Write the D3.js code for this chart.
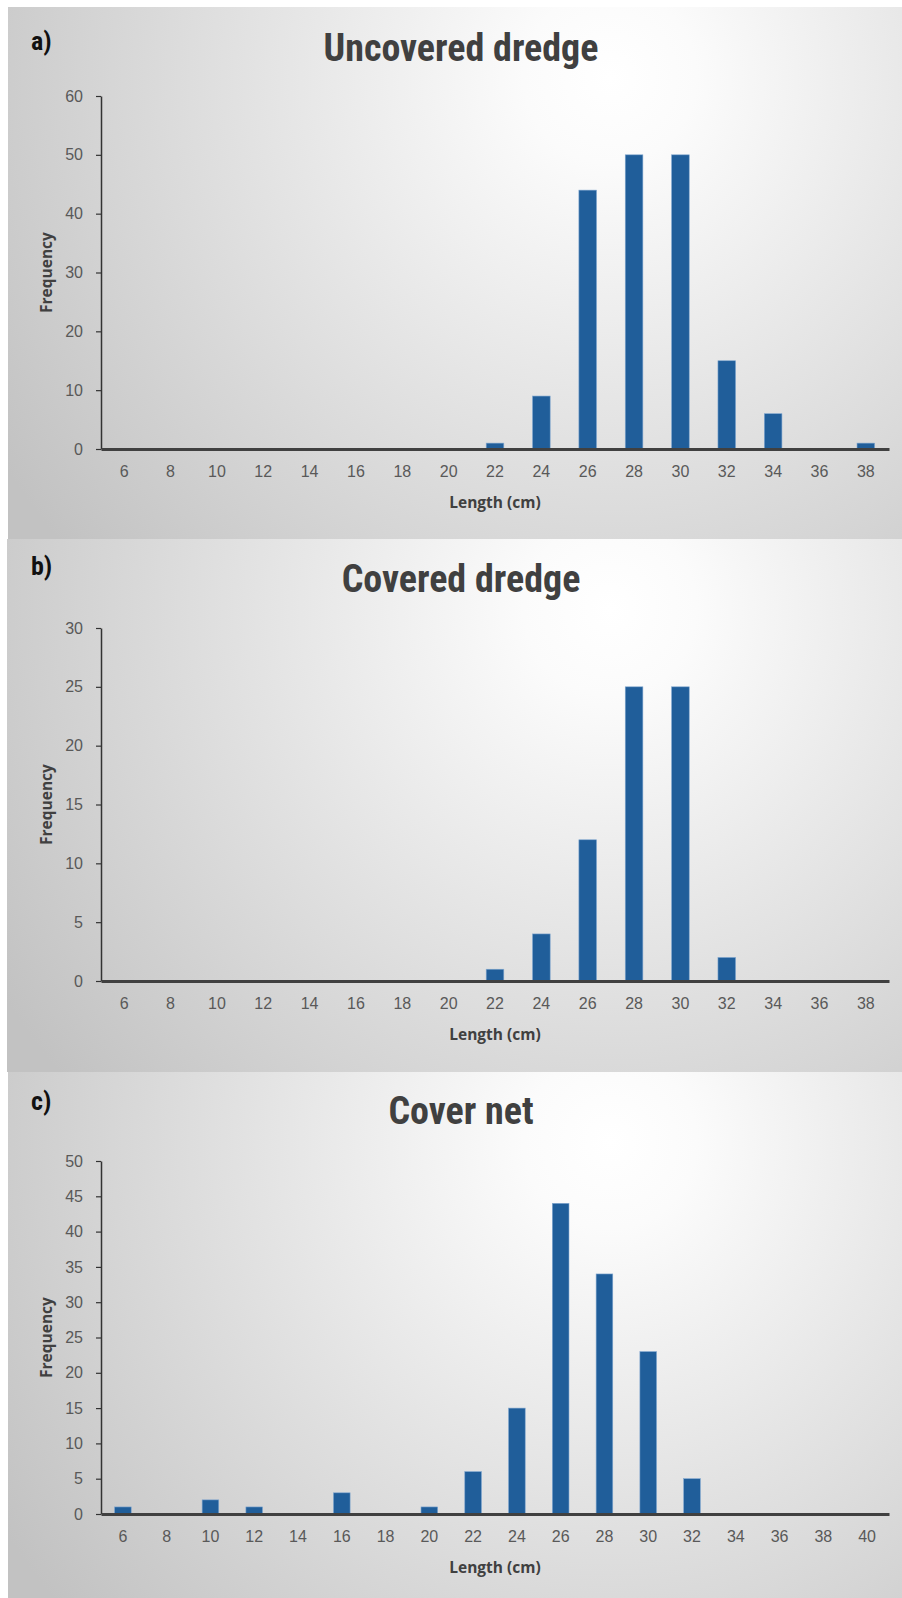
<!DOCTYPE html>
<html><head><meta charset="utf-8">
<script src="https://cdn.jsdelivr.net/npm/d3@7"></script>
<style>body{margin:0;background:#fff}svg{display:block}</style>
</head><body><svg id="chart" width="902" height="1598"></svg>
<script>
// ---- data ----
const lengthsAB = [6,8,10,12,14,16,18,20,22,24,26,28,30,32,34,36,38];
const lengthsC  = [6,8,10,12,14,16,18,20,22,24,26,28,30,32,34,36,38,40];
const uncoveredDredge = [0,0,0,0,0,0,0,0,1,9,44,50,50,15,6,0,1];
const coveredDredge   = [0,0,0,0,0,0,0,0,1,4,12,25,25,2,0,0,0];
const coverNet        = [1,0,2,1,0,3,0,1,6,15,44,34,23,5,0,0,0,0];
const yTicksA = [0,10,20,30,40,50,60];
const yTicksB = [0,5,10,15,20,25,30];
const yTicksC = [0,5,10,15,20,25,30,35,40,45,50];
const panelLetters = ["a)","b)","c)"];
const panelTitles = ["Uncovered dredge","Covered dredge","Cover net"];
const xTitle = "Length (cm)";
const yTitle = "Frequency";

// ---- layout ----
const panels = [
  {cats: lengthsAB, vals: uncoveredDredge, ticks: yTicksA, top: 7,    bottom: 539,  left: 8, letterY: 41,  titleY: 48},
  {cats: lengthsAB, vals: coveredDredge,   ticks: yTicksB, top: 539,  bottom: 1072, left: 7, letterY: 566, titleY: 579},
  {cats: lengthsC,  vals: coverNet,        ticks: yTicksC, top: 1072, bottom: 1598, left: 8, letterY: 1101, titleY: 1111}
];

const svg = d3.select("#chart");
const defs = svg.append("defs");
const W = 902;
const plotLeft = 101, plotRight = 889;
const titleFont = "'Liberation Sans Narrow','Roboto Condensed','DejaVu Sans Condensed','Liberation Sans',sans-serif";
const bodyFont = "'Liberation Sans', Arial, sans-serif";
const boldFont = "'Open Sans','Noto Sans', sans-serif";

panels.forEach((p, i) => {
  const h = p.bottom - p.top;
  const gid = "bg" + i;
  const g = defs.append("radialGradient").attr("id", gid)
    .attr("gradientUnits", "userSpaceOnUse")
    .attr("cx", 610).attr("cy", p.top + 70).attr("r", 720);
  g.append("stop").attr("offset", 0).attr("stop-color", "#ffffff");
  g.append("stop").attr("offset", 0.12).attr("stop-color", "#fbfbfb");
  g.append("stop").attr("offset", 1).attr("stop-color", "#c2c2c2");

  svg.append("rect").attr("x", p.left).attr("y", p.top)
    .attr("width", W - p.left).attr("height", h).attr("fill", `url(#${gid})`);

  const yTop = p.top + 89, yBot = yTop + 353;
  const x = d3.scaleBand().domain(p.cats).range([plotLeft, plotRight]).paddingInner(0).paddingOuter(0);
  const y = d3.scaleLinear().domain([0, d3.max(p.ticks)]).range([yBot, yTop]);
  const barW = x.bandwidth() * 0.38;

  // letter
  svg.append("text").attr("x", 31).attr("y", p.letterY).attr("dy", "0.35em")
    .attr("font-family", titleFont).attr("font-weight", "bold").attr("font-size", 26)
    .attr("fill", "#111").text(panelLetters[i]);
  // title
  svg.append("text").attr("x", 461).attr("y", p.titleY).attr("dy", "0.35em")
    .attr("text-anchor", "middle").attr("font-family", titleFont).attr("font-weight", "bold")
    .attr("font-size", 38).attr("fill", "#404040").text(panelTitles[i]);

  // bars
  svg.append("g").selectAll("rect").data(p.cats.map((c, k) => ({c, v: p.vals[k]})).filter(d => d.v > 0))
    .join("rect")
    .attr("x", d => x(d.c) + (x.bandwidth() - barW) / 2)
    .attr("y", d => y(d.v))
    .attr("width", barW)
    .attr("height", d => yBot - y(d.v))
    .attr("fill", "#205e9a").attr("stroke", "#7fa6cf").attr("stroke-width", 0.6);

  // y axis
  const ya = svg.append("g").attr("transform", `translate(${plotLeft},0)`)
    .call(d3.axisLeft(y).tickValues(p.ticks).tickSize(5).tickSizeOuter(0).tickPadding(13));
  ya.select(".domain").attr("stroke", "#333").attr("stroke-width", 1.5);
  ya.selectAll(".tick line").attr("stroke", "#333").attr("stroke-width", 1.2);
  ya.selectAll(".tick text").attr("font-family", bodyFont).attr("font-size", 16).attr("fill", "#595959");

  // x axis
  const xa = svg.append("g").attr("transform", `translate(0,${yBot})`)
    .call(d3.axisBottom(x).tickSize(0).tickPadding(17));
  xa.select(".domain").attr("stroke", "#404040").attr("stroke-width", 3);
  xa.selectAll(".tick text").attr("font-family", bodyFont).attr("font-size", 16).attr("fill", "#595959");

  // axis titles
  svg.append("text").attr("transform", `translate(47,${(yTop + yBot) / 2}) rotate(-90)`)
    .attr("text-anchor", "middle").attr("dy", "0.35em")
    .attr("font-family", boldFont).attr("font-weight", "bold").attr("font-size", 15.5)
    .attr("fill", "#404040").text(yTitle);
  svg.append("text").attr("x", 495).attr("y", yBot + 54).attr("dy", "0.35em")
    .attr("text-anchor", "middle")
    .attr("font-family", boldFont).attr("font-weight", "bold").attr("font-size", 15.5)
    .attr("fill", "#404040").text(xTitle);
});
</script></body></html>
